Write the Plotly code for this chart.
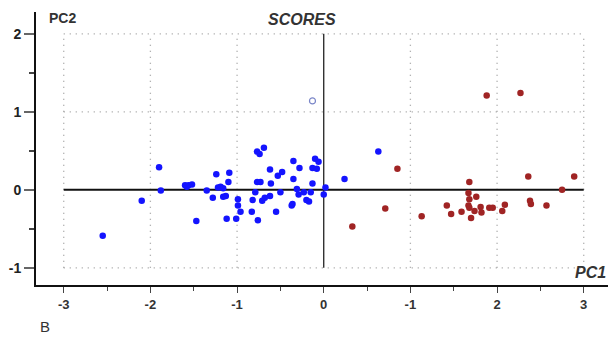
import plotly.graph_objects as go

# ---- data ----
blue_x = [-1.90, -1.88, -2.10, -2.55, -1.60, -1.56, -1.52, -1.58, -1.47, -1.35,
          -1.24, -1.09, -1.10, -1.22, -1.19, -1.16, -1.28, -1.16, -1.13, -0.99,
          -0.99, -0.96, -1.12, -1.01, -0.77, -0.74, -0.69, -0.77, -0.73, -0.79,
          -0.82, -0.83, -0.76, -0.71, -0.68, -0.62, -0.62, -0.61, -0.53, -0.48,
          -0.55, -0.50, -0.35, -0.28, -0.35, -0.31, -0.29, -0.36, -0.23, -0.15,
          -0.20, -0.17, -0.13, -0.10, -0.06, -0.13, -0.08, 0.02, 0.63, 0.24,
          0.00, -0.37]
blue_y = [0.29, -0.01, -0.14, -0.59, 0.06, 0.06, 0.07, 0.04, -0.40, -0.01,
          0.20, 0.22, 0.10, 0.03, 0.04, 0.02, -0.10, -0.09, -0.08, -0.12,
          -0.20, -0.28, -0.37, -0.37, 0.49, 0.46, 0.54, 0.10, 0.10, -0.03,
          -0.13, -0.28, -0.39, -0.14, -0.10, -0.08, 0.26, 0.08, 0.18, 0.23,
          -0.28, -0.03, 0.37, 0.28, 0.14, 0.01, -0.06, -0.18, -0.03, -0.03,
          -0.13, -0.15, 0.08, 0.40, 0.36, 0.28, 0.27, 0.03, 0.49, 0.14,
          -0.06, -0.20]
hollow_x = [-0.13]
hollow_y = [1.14]
red_x = [0.85, 0.71, 0.33, 1.13, 1.42, 1.47, 1.88, 2.27, 2.36, 2.89,
         2.75, 1.68, 1.67, 1.76, 1.68, 1.67, 1.68, 1.59, 1.74, 1.81,
         1.82, 1.70, 1.91, 1.95, 2.09, 2.06, 2.38, 2.39, 2.57]
red_y = [0.27, -0.24, -0.47, -0.34, -0.20, -0.31, 1.21, 1.24, 0.17, 0.17,
         0.00, 0.10, -0.04, -0.09, -0.12, -0.20, -0.23, -0.28, -0.27, -0.22,
         -0.29, -0.36, -0.23, -0.23, -0.19, -0.27, -0.14, -0.18, -0.20]

x_ticks = [-3, -2, -1, 0, 1, 2, 3]
x_tick_text = ["-3", "-2", "-1", "0", "-1", "2", "3"]
y_ticks = [-1, 0, 1, 2]
y_tick_text = ["-1", "0", "1", "2"]
grid_x = [-3, -2, -1, 1, 2, 3]
grid_y = [-1, 1, 2]
box_x = [-3, 3]
box_y = [-1, 2]

FONT = "Liberation Sans, Arial, sans-serif"

fig = go.Figure()
fig.add_trace(go.Scatter(x=blue_x, y=blue_y, mode="markers",
                         marker=dict(color="#1414ff", size=6.5,
                                     line=dict(width=0)),
                         showlegend=False, hoverinfo="skip"))
fig.add_trace(go.Scatter(x=hollow_x, y=hollow_y, mode="markers",
                         marker=dict(symbol="circle-open", color="#7a86c8", size=6,
                                     line=dict(width=1.2)),
                         showlegend=False, hoverinfo="skip"))
fig.add_trace(go.Scatter(x=red_x, y=red_y, mode="markers",
                         marker=dict(color="#a02424", size=6.5,
                                     line=dict(width=0)),
                         showlegend=False, hoverinfo="skip"))

GRID_LINE = dict(color="#9a9a9a", width=1.3, dash="1px,5px")
shapes = []
for gx in grid_x:
    shapes.append(dict(type="line", xref="x", yref="y", x0=gx, x1=gx,
                       y0=box_y[0], y1=box_y[1], line=GRID_LINE, layer="below"))
for gy in grid_y:
    shapes.append(dict(type="line", xref="x", yref="y", y0=gy, y1=gy,
                       x0=box_x[0], x1=box_x[1], line=GRID_LINE, layer="below"))
# zero lines
shapes.append(dict(type="line", xref="x", yref="y", y0=0, y1=0,
                   x0=box_x[0], x1=box_x[1],
                   line=dict(color="#111111", width=2), layer="below"))
shapes.append(dict(type="line", xref="x", yref="y", x0=0, x1=0,
                   y0=box_y[0], y1=box_y[1],
                   line=dict(color="#222222", width=1.3), layer="below"))

W, H = 608, 337
ML, MR, MT, MB = 36, 0, 12, 52
pw, ph = W - ML - MR, H - MT - MB

# (text, pixel x, pixel y, size, anchor)
labels = [
    ("<b>PC2</b>", 47, 18, 14, "left"),
    ("<b><i>SCORES</i></b>", 302, 19, 16, "center"),
    ("<b><i>PC1</i></b>", 590, 272, 16, "center"),
    ("B", 45, 326, 15, "center"),
]
ann_out = []
for text, px, py, size, anchor in labels:
    ann_out.append(dict(text=text, xref="paper", yref="paper",
                        x=(px - ML) / pw, y=1 - (py - MT) / ph,
                        xanchor=anchor, yanchor="middle", showarrow=False,
                        font=dict(family=FONT, size=size, color="#333333")))

fig.update_layout(
    width=W, height=H,
    margin=dict(l=ML, r=MR, t=MT, b=MB, pad=0),
    paper_bgcolor="white", plot_bgcolor="white",
    shapes=shapes, annotations=ann_out,
    font=dict(family=FONT, size=12, color="#333333"),
    xaxis=dict(range=[-3.32, 3.28], showgrid=False, zeroline=False,
               showline=True, linecolor="#111111", linewidth=2,
               tickmode="array", tickvals=x_ticks,
               ticktext=["<b>%s</b>" % t for t in x_tick_text],
               ticks="outside", ticklen=6, tickcolor="#444444", tickwidth=1,
               minor=dict(dtick=0.5, ticks="outside", ticklen=4,
                          tickcolor="#444444", showgrid=False),
               tickfont=dict(family=FONT, size=13, color="#333333"),
               fixedrange=True),
    yaxis=dict(range=[-1.22, 2.28], showgrid=False, zeroline=False,
               showline=True, linecolor="#111111", linewidth=2,
               tickmode="array", tickvals=y_ticks,
               ticktext=["<b>%s</b>" % t for t in y_tick_text],
               ticks="outside", ticklen=10, tickcolor="#666666", tickwidth=1.5,
               minor=dict(dtick=0.5, ticks="outside", ticklen=5,
                          tickcolor="#444444", showgrid=False),
               tickfont=dict(family=FONT, size=14, color="#222222"),
               fixedrange=True),
)

fig.write_html("out.html")
